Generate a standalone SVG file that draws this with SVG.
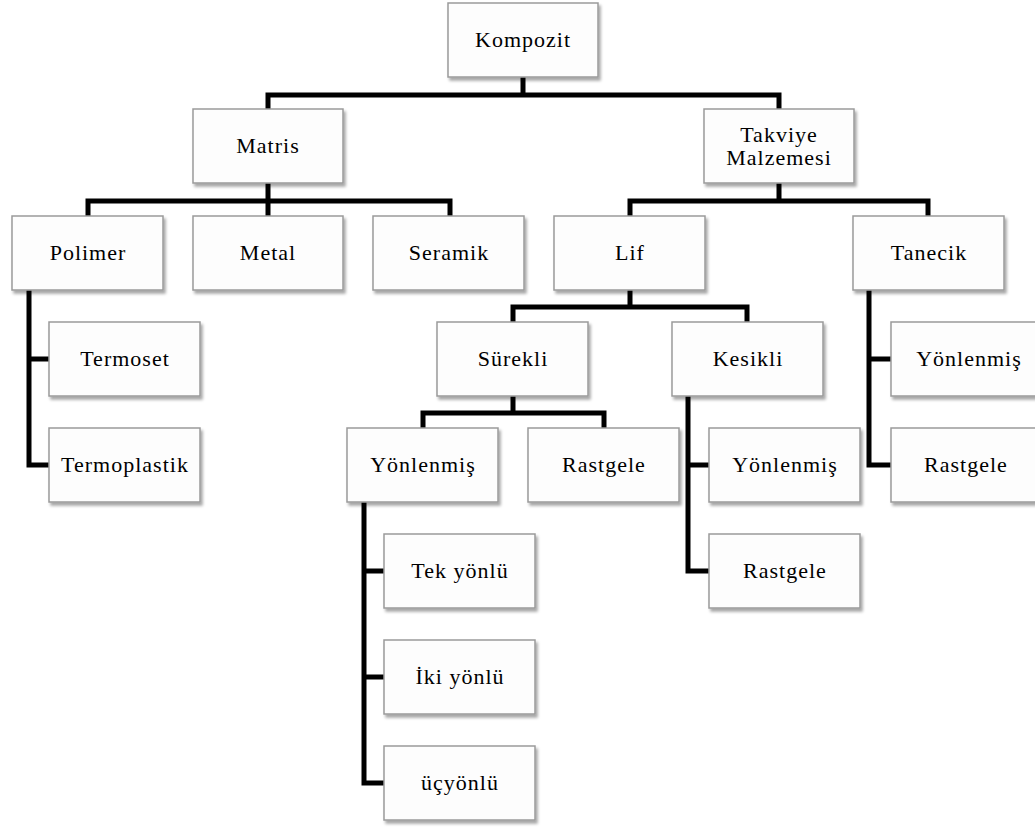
<svg xmlns="http://www.w3.org/2000/svg" width="1035" height="827" viewBox="0 0 1035 827">
  <defs>
    <filter id="shadow" x="-10%" y="-10%" width="125%" height="135%">
      <feDropShadow dx="2" dy="3" stdDeviation="1.6" flood-color="#000" flood-opacity="0.35"/>
    </filter>
  </defs>
  <style>
    .box { fill: #fdfdfd; stroke: #9a9a9a; stroke-width: 1.5; filter: url(#shadow); }
    .lbl { font-size: 22px; letter-spacing: 1px; fill: #000; text-anchor: middle; }
    .wire { fill: none; stroke: #000; stroke-width: 5; stroke-linejoin: miter; stroke-linecap: butt; }
  </style>
  <rect width="1035" height="827" fill="#fff"/>

  <!-- tree connectors -->
  <g id="connectors">
    <path class="wire" d="M523 77 V95 M268 109 V95 H779 V109"/>
    <path class="wire" d="M268 183 V201 M88 216 V201 H450 V216 M268 201 V216"/>
    <path class="wire" d="M779 183 V201 M630 216 V201 H928 V216"/>
    <path class="wire" d="M29 290 V465 H49 M29 359 H49"/>
    <path class="wire" d="M630 290 V307 M513 322 V307 H747 V322"/>
    <path class="wire" d="M513 396 V413 M423 428 V413 H604 V428"/>
    <path class="wire" d="M364 502 V783 H384 M364 571 H384 M364 677 H384"/>
    <path class="wire" d="M688 396 V571 H709 M688 465 H709"/>
    <path class="wire" d="M869 290 V465 H891 M869 359 H891"/>
  </g>

  <!-- nodes; labels use a Times-metric serif -->
  <g font-family="'Liberation Serif', Tinos, 'Times New Roman', Times, 'Nimbus Roman', 'Nimbus Roman No9 L', FreeSerif, 'Noto Serif', 'DejaVu Serif', serif">
  <g id="kompozit">
    <rect class="box" x="448" y="3" width="150" height="74"/>
    <text class="lbl" x="523" y="47">Kompozit</text>
  </g>
  <g id="matris">
    <rect class="box" x="193" y="109" width="150" height="74"/>
    <text class="lbl" x="268" y="153">Matris</text>
  </g>
  <g id="takviye">
    <rect class="box" x="704" y="109" width="150" height="74"/>
    <text class="lbl" x="779" y="142">Takviye</text>
    <text class="lbl" x="779" y="165">Malzemesi</text>
  </g>
  <g id="polimer">
    <rect class="box" x="12" y="216" width="151" height="74"/>
    <text class="lbl" x="88" y="260">Polimer</text>
  </g>
  <g id="metal">
    <rect class="box" x="193" y="216" width="150" height="74"/>
    <text class="lbl" x="268" y="260">Metal</text>
  </g>
  <g id="seramik">
    <rect class="box" x="373" y="216" width="151" height="74"/>
    <text class="lbl" x="449" y="260">Seramik</text>
  </g>
  <g id="lif">
    <rect class="box" x="554" y="216" width="151" height="74"/>
    <text class="lbl" x="630" y="260">Lif</text>
  </g>
  <g id="tanecik">
    <rect class="box" x="853" y="216" width="151" height="74"/>
    <text class="lbl" x="929" y="260">Tanecik</text>
  </g>
  <g id="termoset">
    <rect class="box" x="49" y="322" width="151" height="74"/>
    <text class="lbl" x="125" y="366">Termoset</text>
  </g>
  <g id="termoplastik">
    <rect class="box" x="49" y="428" width="151" height="74"/>
    <text class="lbl" x="125" y="472">Termoplastik</text>
  </g>
  <g id="surekli">
    <rect class="box" x="437" y="322" width="151" height="74"/>
    <text class="lbl" x="513" y="366">Sürekli</text>
  </g>
  <g id="kesikli">
    <rect class="box" x="672" y="322" width="151" height="74"/>
    <text class="lbl" x="748" y="366">Kesikli</text>
  </g>
  <g id="tanecik-yonlenmis">
    <rect class="box" x="891" y="322" width="151" height="74"/>
    <text class="lbl" x="969" y="366">Yönlenmiş</text>
  </g>
  <g id="tanecik-rastgele">
    <rect class="box" x="891" y="428" width="151" height="74"/>
    <text class="lbl" x="966" y="472">Rastgele</text>
  </g>
  <g id="surekli-yonlenmis">
    <rect class="box" x="347" y="428" width="151" height="74"/>
    <text class="lbl" x="423" y="472">Yönlenmiş</text>
  </g>
  <g id="surekli-rastgele">
    <rect class="box" x="528" y="428" width="151" height="74"/>
    <text class="lbl" x="604" y="472">Rastgele</text>
  </g>
  <g id="kesikli-yonlenmis">
    <rect class="box" x="709" y="428" width="151" height="74"/>
    <text class="lbl" x="785" y="472">Yönlenmiş</text>
  </g>
  <g id="kesikli-rastgele">
    <rect class="box" x="709" y="534" width="151" height="74"/>
    <text class="lbl" x="785" y="578">Rastgele</text>
  </g>
  <g id="tek-yonlu">
    <rect class="box" x="384" y="534" width="151" height="74"/>
    <text class="lbl" x="460" y="578">Tek yönlü</text>
  </g>
  <g id="iki-yonlu">
    <rect class="box" x="384" y="640" width="151" height="74"/>
    <text class="lbl" x="460" y="684">İki yönlü</text>
  </g>
  <g id="uc-yonlu">
    <rect class="box" x="384" y="746" width="151" height="74"/>
    <text class="lbl" x="460" y="790">üçyönlü</text>
  </g>
  </g>
</svg>
